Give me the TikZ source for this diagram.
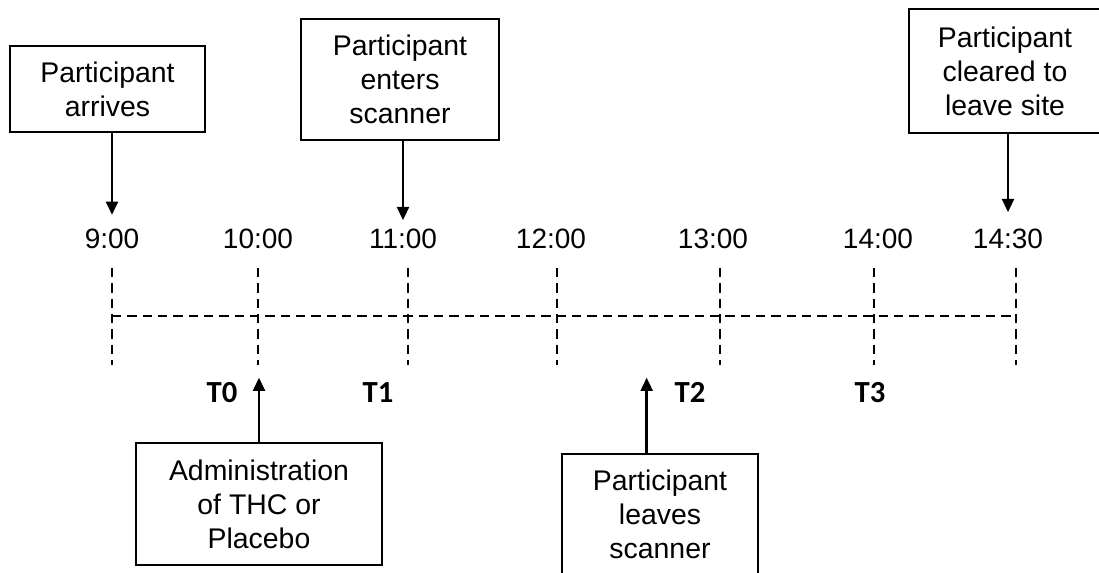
\documentclass[tikz,border=0pt]{standalone}
\usepackage{fontspec}
\setmainfont{Liberation Sans}
\newfontfamily\tlabfont{Carlito}
\usetikzlibrary{arrows.meta}
\tikzset{
  evbox/.style={draw,line width=1.8pt,align=center,inner sep=0pt,
    font=\fontsize{21.3}{25.5}\selectfont},
  hour/.style={anchor=base,inner sep=0pt,font=\fontsize{21}{24}\selectfont},
  tlab/.style={anchor=base,inner sep=3pt,font=\tlabfont\bfseries\fontsize{23}{26}\selectfont},
  evarrow/.style={line width=1.8pt,-{Triangle[width=9pt,length=10pt]}},
  tline/.style={line width=1.8pt,dash pattern=on 7pt off 4.5pt}
}
\begin{document}
\begin{tikzpicture}[x=0.75pt,y=-0.75pt]
\useasboundingbox (0,0) rectangle (1099,572);
\clip (0,0) rectangle (1099,572);
% time line
\draw[tline] (112,316) -- (1016,316);
\foreach \X in {112,258,408,557,720,874,1016}
  \draw[tline] (\X,268) -- (\X,365);
\foreach \X/\T/\N in {112/9:00/1,258/10:00/2,403/11:00/3,551/12:00/4,713/13:00/5,878/14:00/6,1008/14:30/7}
  \node[hour] (l\N) at (\X,248) {\T};
\foreach \X/\N in {222/0,378/1,690/2,870/3}
  \node[tlab] (t\N) at (\X,402) {T\N};
% events above
\node[evbox,minimum width=146pt,minimum height=64.5pt] (arrive) at (107.5,89) {Participant\\arrives};
\node[evbox,minimum width=148.5pt,minimum height=90.75pt] (enter) at (400,79.5) {Participant\\enters\\scanner};
\node[evbox,minimum width=144pt,minimum height=93pt] (clear) at (1005,71) {Participant\\cleared to\\leave site};
\draw[evarrow,shorten >=10pt] (arrive.south -| l1) -- (l1.north);
\draw[evarrow,shorten >=6pt] (enter.south -| l3) -- (l3.north);
\draw[evarrow,shorten >=12pt] (clear.south -| l7) -- (l7.north);
% events below
\node[evbox,minimum width=184.5pt,minimum height=91.5pt] (admin) at (259,504) {Administration\\of THC or\\Placebo};
\node[evbox,minimum width=147pt,minimum height=90pt] (leave) at (660,514) {Participant\\leaves\\scanner};
\draw[evarrow] (admin.north) -- (admin.north |- t0.north);
\draw[evarrow] ([xshift=-10pt]leave.north) -- ([xshift=-10pt]leave.north |- t2.north);
\end{tikzpicture}
\end{document}
